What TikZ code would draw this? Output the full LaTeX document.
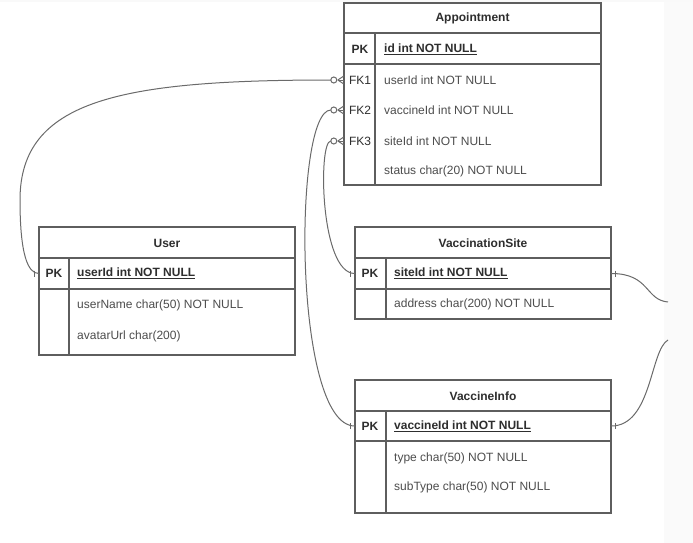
\documentclass[tikz,border=0pt]{standalone}
\usepackage{fontspec}
\setmainfont{Liberation Sans}
\definecolor{boxc}{HTML}{5E5E5E}
\definecolor{linec}{HTML}{6A6A6A}
\definecolor{txtc}{HTML}{2E2E2E}
\tikzset{
  tbl/.style={draw=boxc, line width=1.3pt},
  conn/.style={draw=linec, line width=1pt},
  ttl/.style={font=\fontsize{12}{14}\selectfont\bfseries, text=txtc, inner sep=0pt},
  keyb/.style={font=\fontsize{12}{14}\selectfont\bfseries, text=txtc, inner sep=0pt},
  keyr/.style={font=\fontsize{12}{14}\selectfont, text=txtc, inner sep=0pt},
  fldb/.style={anchor=west, font=\fontsize{12}{14}\selectfont\bfseries, text=txtc, inner sep=0pt},
  fld/.style={anchor=west, font=\fontsize{12}{14}\selectfont, text=txtc!85, inner sep=0pt},
  rowb/.style={inner sep=0pt, minimum height=30pt, minimum width=#1}
}
\newcommand{\zmany}[1]{%
  \draw[conn] ([xshift=-6pt]#1.west) -- ([yshift=4pt]#1.west);
  \draw[conn] ([xshift=-6pt]#1.west) -- ([yshift=-4pt]#1.west);
  \draw[conn] ([xshift=-6pt]#1.west) -- (#1.west);
  \draw[conn, fill=white] ([xshift=-10pt]#1.west) circle (3pt);}
\newcommand{\onew}[1]{\draw[conn] ([xshift=-4pt,yshift=3pt]#1.west) -- ([xshift=-4pt,yshift=-3pt]#1.west);}
\newcommand{\onee}[1]{\draw[conn] ([xshift=4pt,yshift=3pt]#1.east) -- ([xshift=4pt,yshift=-3pt]#1.east);}
\begin{document}
\begin{tikzpicture}[x=1pt,y=-1pt]
\useasboundingbox (0,0) rectangle (693,543);
\fill[white] (0,0) rectangle (693,543);
\fill[gray!4] (664,0) rectangle (693,543);
\fill[gray!5] (0,0) rectangle (693,2);

% ---------- Appointment ----------
\draw[tbl] (344,3) rectangle (601,185);
\draw[tbl] (344,33) -- (601,33);
\draw[tbl] (344,64) -- (601,64);
\draw[tbl] (375,33) -- (375,185);
\node[ttl] (ap-t) at (472.5,18) {Appointment};
\node[rowb=257pt] (ap-pk) at (472.5,49) {};
\node[rowb=257pt] (ap-fk1) at (472.5,80) {};
\node[rowb=257pt] (ap-fk2) at (472.5,110) {};
\node[rowb=257pt] (ap-fk3) at (472.5,141) {};
\node[keyb] (ap-k0) at (360,49) {PK};
\node[keyr] (ap-k1) at (360,80) {FK1};
\node[keyr] (ap-k2) at (360,110) {FK2};
\node[keyr] (ap-k3) at (360,141) {FK3};
\node[fldb] (ap-f0) at (384,49) {\underline{id int NOT NULL}};
\node[fld] (ap-f1) at (384,80) {userId int NOT NULL};
\node[fld] (ap-f2) at (384,110) {vaccineId int NOT NULL};
\node[fld] (ap-f3) at (384,141) {siteId int NOT NULL};
\node[fld] (ap-f4) at (384,171) {status char(20) NOT NULL};

% ---------- User ----------
\draw[tbl] (39,227) rectangle (295,355);
\draw[tbl] (39,258) -- (295,258);
\draw[tbl] (39,289) -- (295,289);
\draw[tbl] (69,258) -- (69,355);
\node[ttl] (us-t) at (167,243) {User};
\node[rowb=256pt] (us-pk) at (167,273.5) {};
\node[keyb] (us-k0) at (54,273.5) {PK};
\node[fldb] (us-f0) at (77,273.5) {\underline{userId int NOT NULL}};
\node[fld] (us-f1) at (77,305) {userName char(50) NOT NULL};
\node[fld] (us-f2) at (77,336) {avatarUrl char(200)};

% ---------- VaccinationSite ----------
\draw[tbl] (355,227) rectangle (611,319);
\draw[tbl] (355,258) -- (611,258);
\draw[tbl] (355,289) -- (611,289);
\draw[tbl] (386,258) -- (386,319);
\node[ttl] (vs-t) at (483,243) {VaccinationSite};
\node[rowb=256pt] (vs-pk) at (483,273.5) {};
\node[keyb] (vs-k0) at (370,273.5) {PK};
\node[fldb] (vs-f0) at (394,273.5) {\underline{siteId int NOT NULL}};
\node[fld] (vs-f1) at (394,304) {address char(200) NOT NULL};

% ---------- VaccineInfo ----------
\draw[tbl] (355,380) rectangle (611,513);
\draw[tbl] (355,411) -- (611,411);
\draw[tbl] (355,441) -- (611,441);
\draw[tbl] (386,411) -- (386,513);
\node[ttl] (vi-t) at (483,396) {VaccineInfo};
\node[rowb=256pt] (vi-pk) at (483,426) {};
\node[keyb] (vi-k0) at (370,426) {PK};
\node[fldb] (vi-f0) at (394,426) {\underline{vaccineId int NOT NULL}};
\node[fld] (vi-f1) at (394,458) {type char(50) NOT NULL};
\node[fld] (vi-f2) at (394,487) {subType char(50) NOT NULL};

% ---------- connectors ----------
\draw[conn] ([xshift=-13pt]ap-fk1.west) .. controls (120,80) and (20,100) .. (20,200)
  .. controls (20,255) and (28,273.5) .. (us-pk.west);
\draw[conn] ([xshift=-13pt]ap-fk2.west) .. controls (293,110) and (293,426) .. (vi-pk.west);
\draw[conn] ([xshift=-13pt]ap-fk3.west) .. controls (318,141) and (320,273.5) .. (vs-pk.west);
\coordinate (r1) at (668,302);
\coordinate (r2) at (668,340);
\draw[conn] (vs-pk.east) .. controls (650,273.5) and (645,300) .. (r1);
\draw[conn] (r2) .. controls (650,350) and (652,426) .. (vi-pk.east);

\zmany{ap-fk1}
\zmany{ap-fk2}
\zmany{ap-fk3}
\onew{us-pk}
\onew{vs-pk}
\onew{vi-pk}
\onee{vs-pk}
\onee{vi-pk}
\end{tikzpicture}
\end{document}
